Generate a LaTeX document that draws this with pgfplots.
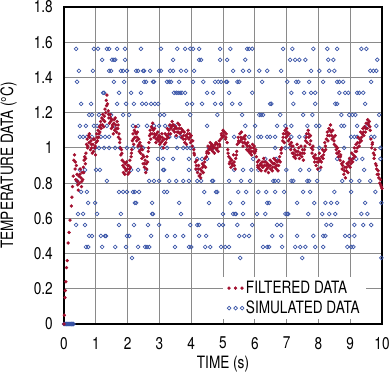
\documentclass[border=0pt]{standalone}
\usepackage{pgfplots}
\usepackage{pgfplotstable}
\pgfplotsset{compat=1.18}
\usepackage{fontspec}
\setmainfont{TeX Gyre Heros}[FakeStretch=0.80]
\definecolor{redpt}{HTML}{A3102F}
\definecolor{bluept}{HTML}{3A55A8}
\definecolor{gridgray}{HTML}{8A8A8A}

\pgfplotstableread{
x y
0.00 0
0.03 0
0.06 0
0.09 0
0.12 0
0.15 0
0.18 0
0.21 0
0.24 0
0.27 0
0.30 0
0.38 1.5625
0.94 1.5625
1.07 1.5625
1.35 1.5625
1.42 1.5625
1.67 1.5625
1.92 1.5625
2.42 1.5625
3.05 1.5625
3.56 1.5625
3.81 1.5625
3.97 1.5625
4.06 1.5625
4.25 1.5625
4.91 1.5625
5.23 1.5625
5.76 1.5625
5.82 1.5625
5.92 1.5625
6.89 1.5625
7.18 1.5625
7.84 1.5625
8.28 1.5625
8.59 1.5625
9.35 1.5625
9.51 1.5625
1.20 1.5
1.51 1.5
1.57 1.5
1.61 1.5
1.92 1.5
3.43 1.5
4.25 1.5
4.31 1.5
4.91 1.5
5.13 1.5
5.70 1.5
7.11 1.5
7.27 1.5
7.40 1.5
7.59 1.5
8.31 1.5
8.47 1.5
9.85 1.5
0.47 1.4375
0.91 1.4375
1.42 1.4375
1.48 1.4375
1.79 1.4375
1.86 1.4375
1.98 1.4375
2.27 1.4375
2.33 1.4375
2.49 1.4375
2.52 1.4375
2.71 1.4375
2.99 1.4375
3.05 1.4375
3.34 1.4375
3.43 1.4375
3.68 1.4375
3.84 1.4375
4.09 1.4375
5.32 1.4375
5.63 1.4375
5.82 1.4375
6.14 1.4375
6.39 1.4375
6.83 1.4375
7.77 1.4375
8.03 1.4375
8.34 1.4375
8.50 1.4375
9.63 1.4375
9.73 1.4375
9.82 1.4375
0.41 1.375
1.57 1.375
1.89 1.375
2.52 1.375
2.58 1.375
2.80 1.375
2.83 1.375
3.24 1.375
3.31 1.375
3.37 1.375
3.62 1.375
4.06 1.375
4.38 1.375
4.75 1.375
4.85 1.375
4.94 1.375
5.10 1.375
5.13 1.375
5.45 1.375
5.51 1.375
6.23 1.375
7.02 1.375
7.30 1.375
7.37 1.375
7.71 1.375
8.15 1.375
8.59 1.375
8.66 1.375
8.78 1.375
9.66 1.375
1.23 1.3125
1.26 1.3125
1.73 1.3125
2.11 1.3125
2.42 1.3125
3.46 1.3125
3.53 1.3125
3.59 1.3125
3.65 1.3125
3.71 1.3125
3.81 1.3125
4.50 1.3125
4.69 1.3125
5.19 1.3125
5.92 1.3125
7.15 1.3125
7.55 1.3125
7.77 1.3125
7.90 1.3125
8.66 1.3125
8.84 1.3125
8.94 1.3125
9.22 1.3125
9.29 1.3125
9.41 1.3125
0.54 1.25
0.85 1.25
1.67 1.25
1.95 1.25
2.20 1.25
2.46 1.25
2.58 1.25
2.74 1.25
2.86 1.25
2.96 1.25
3.87 1.25
4.03 1.25
4.34 1.25
4.75 1.25
4.94 1.25
5.29 1.25
5.54 1.25
6.48 1.25
6.52 1.25
7.21 1.25
7.90 1.25
8.53 1.25
8.59 1.25
9.47 1.25
0.79 1.1875
0.88 1.1875
1.10 1.1875
1.48 1.1875
1.86 1.1875
2.05 1.1875
3.02 1.1875
3.15 1.1875
3.97 1.1875
4.82 1.1875
5.60 1.1875
6.14 1.1875
6.20 1.1875
6.26 1.1875
6.80 1.1875
7.52 1.1875
7.81 1.1875
8.72 1.1875
8.97 1.1875
9.07 1.1875
9.16 1.1875
9.91 1.1875
0.50 1.125
0.69 1.125
0.94 1.125
1.04 1.125
1.16 1.125
1.35 1.125
1.57 1.125
2.17 1.125
2.33 1.125
2.61 1.125
2.83 1.125
2.99 1.125
3.18 1.125
3.34 1.125
3.49 1.125
4.50 1.125
5.70 1.125
6.01 1.125
6.70 1.125
6.96 1.125
7.15 1.125
7.65 1.125
7.93 1.125
8.03 1.125
8.72 1.125
8.81 1.125
9.22 1.125
9.54 1.125
9.82 1.125
0.50 1.0625
0.60 1.0625
0.72 1.0625
0.88 1.0625
1.16 1.0625
1.29 1.0625
1.42 1.0625
2.90 1.0625
3.31 1.0625
3.53 1.0625
3.68 1.0625
5.35 1.0625
5.82 1.0625
6.11 1.0625
6.20 1.0625
6.39 1.0625
6.48 1.0625
6.64 1.0625
7.15 1.0625
7.40 1.0625
7.59 1.0625
9.03 1.0625
9.13 1.0625
9.22 1.0625
9.66 1.0625
9.76 1.0625
0.98 1.0
1.10 1.0
1.26 1.0
1.42 1.0
1.61 1.0
1.76 1.0
1.98 1.0
2.17 1.0
2.36 1.0
2.49 1.0
3.08 1.0
3.24 1.0
3.56 1.0
3.75 1.0
3.87 1.0
3.97 1.0
4.06 1.0
4.56 1.0
4.63 1.0
4.69 1.0
6.64 1.0
6.96 1.0
7.11 1.0
8.03 1.0
8.81 1.0
9.95 1.0
2.96 0.9375
3.12 0.9375
3.43 0.9375
3.93 0.9375
4.19 0.9375
4.34 0.9375
4.50 0.9375
5.95 0.9375
6.33 0.9375
6.67 0.9375
8.59 0.9375
9.00 0.9375
9.19 0.9375
9.38 0.9375
9.95 0.9375
0.50 0.875
0.66 0.875
1.01 0.875
1.13 0.875
2.11 0.875
2.33 0.875
2.58 0.875
3.12 0.875
3.15 0.875
3.93 0.875
4.19 0.875
5.35 0.875
5.63 0.875
5.89 0.875
6.11 0.875
6.99 0.875
7.43 0.875
7.71 0.875
8.03 0.875
9.44 0.875
0.41 0.8125
1.35 0.8125
2.68 0.8125
2.83 0.8125
2.99 0.8125
3.31 0.8125
3.53 0.8125
3.75 0.8125
3.93 0.8125
4.19 0.8125
4.31 0.8125
4.66 0.8125
4.69 0.8125
5.19 0.8125
5.57 0.8125
5.85 0.8125
6.58 0.8125
6.64 0.8125
6.74 0.8125
7.15 0.8125
7.21 0.8125
7.65 0.8125
7.71 0.8125
7.96 0.8125
8.75 0.8125
9.03 0.8125
9.29 0.8125
9.63 0.8125
0.54 0.75
0.72 0.75
1.73 0.75
1.86 0.75
1.98 0.75
2.17 0.75
2.23 0.75
2.36 0.75
3.15 0.75
3.24 0.75
4.41 0.75
4.78 0.75
4.82 0.75
5.48 0.75
5.73 0.75
6.11 0.75
6.36 0.75
6.64 0.75
6.92 0.75
7.52 0.75
7.74 0.75
8.50 0.75
9.03 0.75
9.79 0.75
0.76 0.6875
0.98 0.6875
2.23 0.6875
2.27 0.6875
2.77 0.6875
3.62 0.6875
4.56 0.6875
5.23 0.6875
5.63 0.6875
6.39 0.6875
6.45 0.6875
7.33 0.6875
7.87 0.6875
8.22 0.6875
8.40 0.6875
8.59 0.6875
9.47 0.6875
9.98 0.6875
0.44 0.625
0.60 0.625
1.04 0.625
1.79 0.625
2.77 0.625
2.80 0.625
3.68 0.625
5.00 0.625
5.32 0.625
5.38 0.625
5.41 0.625
5.63 0.625
6.07 0.625
6.33 0.625
6.96 0.625
7.02 0.625
7.05 0.625
7.68 0.625
8.12 0.625
8.34 0.625
8.53 0.625
9.35 0.625
9.54 0.625
0.38 0.5625
0.66 0.5625
1.73 0.5625
2.20 0.5625
2.64 0.5625
2.99 0.5625
3.97 0.5625
4.19 0.5625
4.25 0.5625
4.88 0.5625
5.00 0.5625
5.45 0.5625
5.92 0.5625
6.70 0.5625
6.83 0.5625
8.25 0.5625
8.40 0.5625
9.13 0.5625
9.41 0.5625
9.66 0.5625
0.79 0.5
0.88 0.5
1.16 0.5
1.29 0.5
1.32 0.5
1.98 0.5
2.05 0.5
2.74 0.5
3.24 0.5
3.49 0.5
3.75 0.5
4.25 0.5
4.47 0.5
5.51 0.5
5.67 0.5
5.82 0.5
6.55 0.5
6.83 0.5
7.33 0.5
7.84 0.5
8.15 0.5
8.22 0.5
8.84 0.5
8.97 0.5
9.13 0.5
0.69 0.4375
0.76 0.4375
1.20 0.4375
1.61 0.4375
1.95 0.4375
2.33 0.4375
2.55 0.4375
2.61 0.4375
2.68 0.4375
3.49 0.4375
3.93 0.4375
4.00 0.4375
4.44 0.4375
4.60 0.4375
4.94 0.4375
5.07 0.4375
5.19 0.4375
6.26 0.4375
6.39 0.4375
6.45 0.4375
6.86 0.4375
7.27 0.4375
7.43 0.4375
7.59 0.4375
7.90 0.4375
8.15 0.4375
8.91 0.4375
9.03 0.4375
9.10 0.4375
2.14 0.375
5.54 0.375
7.49 0.375
9.98 0.375
}\simdata

\pgfplotstableread{
x y
0.00 0.00
0.01 0.05
0.03 0.15
0.04 0.19
0.06 0.24
0.08 0.32
0.10 0.36
0.13 0.46
0.16 0.52
0.19 0.59
0.23 0.67
0.25 0.72
0.27 0.78
0.29 0.84
0.31 0.93
0.33 0.96
0.35 0.88
0.37 0.82
0.39 0.90
0.41 0.85
0.43 0.79
0.45 0.76
0.47 0.84
0.49 0.80
0.51 0.88
0.53 0.83
0.55 0.78
0.57 0.86
0.59 0.82
0.61 0.89
0.63 0.93
0.65 0.95
0.67 0.91
0.69 0.97
0.71 1.02
0.73 1.05
0.75 1.01
0.77 1.07
0.79 1.03
0.81 1.06
0.83 0.99
0.85 1.04
0.87 1.00
0.89 0.97
0.91 1.02
0.93 0.98
0.95 1.05
0.97 1.00
0.99 0.96
1.01 1.03
1.03 1.08
1.05 1.04
1.07 1.10
1.09 1.06
1.11 1.12
1.13 1.09
1.15 1.15
1.17 1.11
1.19 1.17
1.21 1.13
1.23 1.16
1.25 1.12
1.27 1.18
1.29 1.22
1.31 1.20
1.33 1.27
1.35 1.30
1.37 1.25
1.39 1.21
1.41 1.17
1.43 1.14
1.45 1.19
1.47 1.15
1.49 1.11
1.51 1.16
1.53 1.12
1.55 1.08
1.57 1.14
1.59 1.10
1.61 1.17
1.63 1.13
1.65 1.09
1.67 1.15
1.69 1.11
1.71 1.06
1.73 1.08
1.75 1.03
1.77 1.00
1.79 0.96
1.81 0.99
1.83 0.93
1.85 0.90
1.87 0.86
1.89 0.89
1.91 0.85
1.93 0.91
1.95 0.87
1.97 0.92
1.99 0.88
2.01 0.85
2.03 0.90
2.05 0.86
2.07 0.93
2.09 0.89
2.11 0.95
2.13 0.99
2.15 1.04
2.17 1.08
2.19 1.02
2.21 1.10
2.23 1.06
2.25 1.12
2.27 1.08
2.29 1.04
2.31 1.09
2.33 1.01
2.35 1.05
2.37 0.98
2.39 1.03
2.41 0.97
2.43 1.01
2.45 0.94
2.47 0.99
2.49 0.91
2.51 0.95
2.53 0.89
2.55 0.93
2.57 0.86
2.59 0.91
2.61 0.95
2.63 0.92
2.65 0.98
2.67 1.03
2.69 1.07
2.71 1.10
2.73 1.05
2.75 1.12
2.77 1.08
2.79 1.14
2.81 1.10
2.83 1.06
2.85 1.11
2.87 1.07
2.89 1.03
2.91 1.08
2.93 1.05
2.95 1.09
2.97 1.04
2.99 1.07
3.01 1.02
3.03 1.06
3.05 1.03
3.08 1.08
3.10 1.04
3.13 1.00
3.15 1.05
3.18 1.08
3.20 1.03
3.23 1.07
3.25 1.11
3.28 1.06
3.30 1.10
3.33 1.13
3.35 1.08
3.38 1.12
3.40 1.15
3.43 1.10
3.45 1.13
3.48 1.09
3.50 1.12
3.53 1.07
3.55 1.11
3.58 1.14
3.60 1.09
3.63 1.13
3.65 1.08
3.68 1.11
3.70 1.06
3.73 1.10
3.75 1.05
3.78 1.09
3.80 1.03
3.83 1.07
3.85 1.02
3.88 1.06
3.90 1.10
3.93 1.05
3.95 1.08
3.98 1.03
4.00 1.07
4.03 1.01
4.05 1.04
4.08 0.99
4.10 0.96
4.13 0.92
4.15 0.88
4.18 0.93
4.20 0.86
4.23 0.90
4.25 0.84
4.28 0.88
4.30 0.83
4.33 0.87
4.35 0.91
4.38 0.86
4.40 0.90
4.43 0.94
4.45 0.89
4.48 0.95
4.50 0.98
4.53 1.01
4.55 0.97
4.58 1.00
4.60 1.03
4.63 0.99
4.65 1.02
4.68 0.98
4.70 1.01
4.73 0.97
4.75 1.00
4.78 1.03
4.80 0.99
4.83 1.02
4.85 0.98
4.88 1.04
4.90 1.01
4.93 1.05
4.95 1.08
4.98 1.06
5.00 1.10
5.03 1.07
5.05 1.09
5.08 1.05
5.10 1.08
5.13 1.03
5.15 0.99
5.18 0.95
5.20 0.91
5.23 0.94
5.25 0.89
5.28 0.93
5.30 0.90
5.33 0.96
5.35 0.92
5.38 0.88
5.40 0.94
5.43 0.98
5.45 1.02
5.48 1.06
5.50 1.03
5.53 1.08
5.55 1.04
5.58 1.09
5.60 1.05
5.63 1.01
5.65 1.06
5.68 1.03
5.70 1.07
5.73 1.02
5.75 0.99
5.78 1.03
5.80 0.98
5.83 1.01
5.85 0.97
5.88 1.00
5.90 0.96
5.93 1.02
5.95 0.98
5.98 1.01
6.00 0.97
6.03 0.99
6.05 0.95
6.08 0.92
6.10 0.89
6.13 0.93
6.15 0.88
6.18 0.91
6.20 0.87
6.23 0.92
6.25 0.89
6.28 0.94
6.30 0.90
6.33 0.87
6.35 0.92
6.38 0.88
6.40 0.91
6.43 0.86
6.45 0.90
6.48 0.93
6.50 0.88
6.53 0.92
6.55 0.87
6.58 0.91
6.60 0.94
6.63 0.89
6.65 0.93
6.68 0.88
6.70 0.92
6.73 0.87
6.75 0.90
6.78 0.95
6.80 0.92
6.83 0.97
6.85 1.00
6.88 1.04
6.90 1.08
6.93 1.03
6.95 1.10
6.98 1.06
7.00 1.11
7.03 1.07
7.05 1.04
7.08 1.08
7.10 1.02
7.13 0.99
7.15 1.03
7.18 0.97
7.20 1.01
7.23 0.95
7.25 0.99
7.28 0.94
7.30 0.98
7.33 1.02
7.35 0.96
7.38 1.00
7.40 0.94
7.43 0.97
7.45 1.01
7.48 0.95
7.50 0.99
7.53 0.93
7.55 0.97
7.58 1.01
7.60 1.04
7.63 1.08
7.65 1.03
7.68 1.10
7.70 1.06
7.73 1.02
7.75 1.07
7.78 1.00
7.80 0.97
7.83 1.01
7.85 0.95
7.88 0.92
7.90 0.96
7.93 0.90
7.95 0.94
7.98 0.88
8.00 0.92
8.03 0.97
8.05 0.93
8.08 0.89
8.10 0.95
8.13 0.99
8.15 0.94
8.18 0.98
8.20 1.03
8.23 0.99
8.25 1.05
8.28 1.09
8.30 1.04
8.33 1.11
8.35 1.07
8.38 1.13
8.40 1.09
8.43 1.05
8.45 1.10
8.48 1.06
8.50 1.02
8.53 1.07
8.55 1.01
8.58 0.97
8.60 1.00
8.63 0.95
8.65 0.98
8.68 0.93
8.70 0.96
8.73 0.91
8.75 0.88
8.78 0.92
8.80 0.85
8.83 0.89
8.85 0.83
8.88 0.87
8.90 0.91
8.93 0.86
8.95 0.90
8.98 0.94
9.00 0.89
9.03 0.93
9.05 0.97
9.08 0.92
9.10 0.96
9.13 1.00
9.15 0.95
9.18 1.02
9.20 0.98
9.23 1.03
9.25 1.06
9.28 1.01
9.30 1.05
9.33 1.09
9.35 1.04
9.38 1.08
9.40 1.11
9.43 1.07
9.45 1.12
9.48 1.09
9.50 1.14
9.53 1.11
9.55 1.16
9.58 1.13
9.60 1.15
9.63 1.10
9.65 1.05
9.68 1.00
9.70 1.03
9.73 0.97
9.75 0.94
9.78 0.99
9.80 0.91
9.83 0.88
9.85 0.85
9.88 0.87
9.90 0.83
9.93 0.80
9.95 0.82
9.98 0.78
10.00 0.77
0.36 0.92
0.42 0.81
0.50 0.85
0.56 0.81
0.62 0.86
0.68 0.94
0.74 1.00
0.80 1.08
0.86 1.02
0.92 1.05
0.98 1.01
1.04 1.06
1.10 1.08
1.16 1.13
1.22 1.19
1.28 1.15
1.34 1.24
1.40 1.19
1.46 1.17
1.52 1.13
1.58 1.16
1.64 1.11
1.70 1.13
1.76 1.05
1.82 0.97
1.88 0.92
1.94 0.88
2.00 0.90
2.06 0.88
2.12 0.97
2.18 1.05
2.24 1.09
2.30 1.06
2.36 1.02
2.42 0.99
2.48 0.96
2.54 0.91
2.60 0.88
2.66 1.00
2.72 1.08
2.78 1.11
2.84 1.08
2.90 1.05
2.96 1.06
3.02 1.05
3.09 1.06
3.16 1.02
3.22 1.05
3.29 1.08
3.36 1.11
3.42 1.13
3.49 1.11
3.56 1.09
3.62 1.11
3.69 1.09
3.76 1.07
3.82 1.05
3.89 1.08
3.96 1.06
4.02 1.04
4.09 0.97
4.16 0.90
4.22 0.88
4.29 0.85
4.36 0.89
4.42 0.92
4.49 0.97
4.56 0.99
4.62 1.01
4.69 1.00
4.76 1.02
4.82 1.00
4.89 1.02
4.96 1.07
5.02 1.09
5.09 1.06
5.16 0.97
5.22 0.92
5.29 0.91
5.36 0.90
5.42 0.96
5.49 1.04
5.56 1.06
5.62 1.03
5.69 1.05
5.76 1.01
5.82 0.99
5.89 0.98
5.96 1.00
6.02 0.98
6.09 0.90
6.16 0.90
6.22 0.90
6.29 0.92
6.36 0.90
6.42 0.89
6.49 0.90
6.56 0.89
6.62 0.91
6.69 0.90
6.76 0.93
6.82 0.99
6.89 1.06
6.96 1.08
7.02 1.09
7.09 1.05
7.16 1.01
7.22 0.97
7.29 0.96
7.36 0.98
7.42 0.96
7.49 0.97
7.56 0.99
7.62 1.06
7.69 1.08
7.76 1.04
7.82 0.99
7.89 0.94
7.96 0.92
8.02 0.94
8.09 0.92
8.16 0.96
8.22 1.01
8.29 1.07
8.36 1.10
8.42 1.07
8.49 1.04
8.56 0.99
8.62 0.97
8.69 0.95
8.76 0.90
8.82 0.87
8.89 0.89
8.96 0.92
9.02 0.91
9.09 0.94
9.16 0.98
9.22 1.00
9.29 1.03
9.36 1.06
9.42 1.09
9.49 1.11
9.56 1.14
9.62 1.12
9.69 1.02
9.76 0.96
9.82 0.90
9.89 0.85
9.96 0.79
}\filtdata

\begin{document}
\begin{tikzpicture}
\begin{axis}[
  scale only axis,
  width=318bp, height=317bp,
  xmin=0, xmax=10, ymin=0, ymax=1.8,
  xtick={0,1,2,3,4,5,6,7,8,9,10},
  ytick={0,0.2,0.4,0.6,0.8,1,1.2,1.4,1.6,1.8},
  yticklabels={0,0.2,0.4,0.6,0.8,1,1.2,1.4,1.6,1.8},
  grid=major,
  major grid style={line width=0.9pt, color=gridgray},
  axis line style={line width=1.4pt, black},
  major tick length=0pt,
  /pgf/number format/assume math mode=true,
  tick label style={font=\fontsize{17bp}{20bp}\selectfont},
  xticklabel style={anchor=north, inner sep=0pt, yshift=-13bp},
  yticklabel style={anchor=east, inner sep=0pt, xshift=-11bp},
  xlabel={TIME (s)},
  ylabel={TEMPERATURE DATA (°C)},
  every axis x label/.style={at={(axis description cs:0.5,-0.101)}, anchor=north, inner sep=0pt, font=\fontsize{17bp}{20bp}\selectfont},
  every axis y label/.style={at={(axis description cs:-0.148,0.5)}, anchor=south, rotate=90, inner sep=0pt, font=\fontsize{17bp}{20bp}\selectfont},
  clip=false,
  reverse legend,
  legend cell align=left,
  legend image code/.code={\draw[#1, only marks] plot coordinates {(0bp,0bp) (6.5bp,0bp) (13bp,0bp)};},
  legend style={at={(axis cs:5.0,0.267)}, anchor=north west, draw=none, fill=white,
    font=\fontsize{17bp}{20bp}\selectfont, inner xsep=4bp, inner ysep=2bp,
    row sep=2bp, nodes={inner sep=2bp}},
]
\addplot[only marks, mark=o, mark size=1.9pt, line width=0.7pt, color=bluept]
  table[x=x,y=y] {\simdata};
\addlegendentry{SIMULATED DATA}
\addplot[only marks, mark=*, mark size=1.5pt, color=redpt]
  table[x=x,y=y] {\filtdata};
\addlegendentry{FILTERED DATA}
\end{axis}
\pgfresetboundingbox
\useasboundingbox ([xshift=-64bp,yshift=-52bp]current axis.south west) rectangle ([xshift=10bp,yshift=7bp]current axis.north east);
\end{tikzpicture}
\end{document}
